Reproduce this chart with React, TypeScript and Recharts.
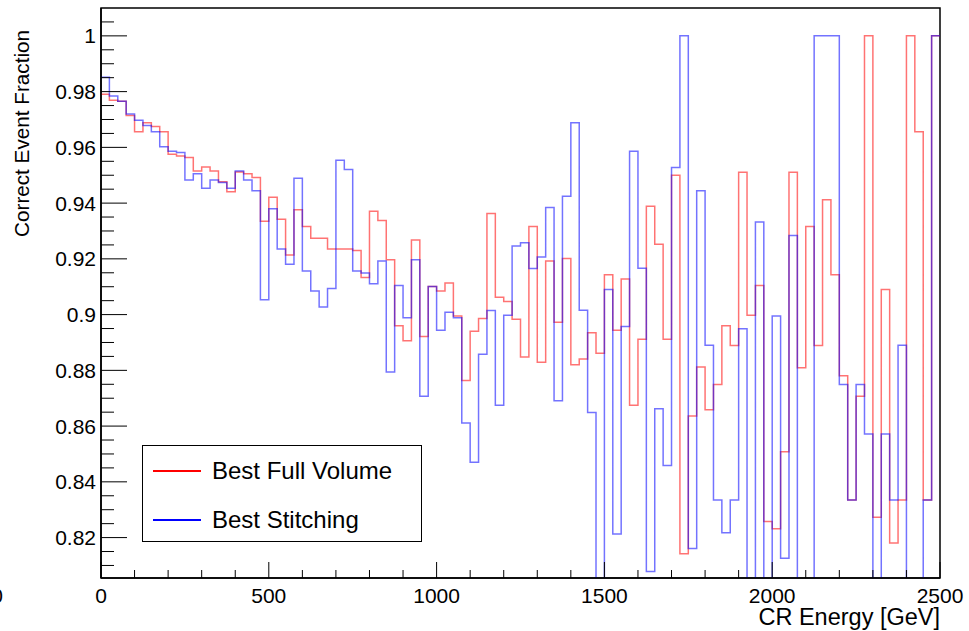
import React from 'react';
import { LineChart, Line, XAxis, YAxis, ReferenceArea } from 'recharts';

// Histogram: 100 bins of 25 GeV from 0 to 2500 GeV
const BIN_WIDTH = 25;
const N_BINS = 100;

// Best Full Volume (red), bin contents
const fullVolume = [
  0.9791, 0.9769, 0.9765, 0.9714, 0.9656, 0.9688, 0.9675, 0.9656, 0.9575, 0.9569,
  0.9564, 0.9515, 0.953, 0.9515, 0.9477, 0.9441, 0.9512, 0.9505, 0.9492, 0.9335,
  0.9421, 0.9342, 0.9214, 0.9376, 0.9316, 0.9274, 0.9274, 0.9235, 0.9235, 0.9235,
  0.923, 0.9133, 0.9371, 0.9338, 0.9197, 0.896, 0.8906, 0.9268, 0.8921, 0.9101,
  0.9085, 0.9113, 0.8995, 0.8764, 0.894, 0.8986, 0.9363, 0.9062, 0.9047, 0.8983,
  0.8848, 0.9316, 0.8829, 0.9192, 0.8973, 0.9201, 0.882, 0.8841, 0.8935, 0.8861,
  0.9143, 0.8944, 0.9128, 0.8675, 0.8912, 0.9389, 0.9252, 0.8912, 0.95, 0.8142,
  0.8636, 0.8812, 0.8659, 0.8749, 0.896, 0.8889, 0.9511, 0.8998, 0.9104, 0.8258,
  0.8232, 0.8508, 0.9511, 0.8809, 0.9316, 0.8889, 0.9412, 0.9143, 0.8781, 0.8335,
  0.8707, 1.0, 0.8273, 0.909, 0.8181, 0.8335, 1.0, 0.9656, 0.8335, 1.0,
];

// Best Stitching (blue), bin contents
const stitching = [
  0.9852, 0.9784, 0.9765, 0.972, 0.9697, 0.9678, 0.9656, 0.9602, 0.9586, 0.9582,
  0.9483, 0.9505, 0.9453, 0.9483, 0.9474, 0.9453, 0.9515, 0.9483, 0.9444, 0.9053,
  0.938, 0.9235, 0.9181, 0.9489, 0.9156, 0.9085, 0.9027, 0.9094, 0.9554, 0.9521,
  0.9156, 0.9149, 0.9111, 0.9192, 0.8794, 0.9104, 0.8989, 0.9197, 0.8707, 0.9101,
  0.8944, 0.9008, 0.8989, 0.8611, 0.847, 0.8858, 0.9015, 0.8675, 0.8998, 0.9246,
  0.9258, 0.9165, 0.9207, 0.9384, 0.8691, 0.9425, 0.9688, 0.9016, 0.8649, 0.75,
  0.909, 0.8213, 0.8957, 0.9586, 0.9166, 0.8078, 0.8662, 0.8459, 0.9528, 1.0,
  0.8161, 0.9444, 0.889, 0.8335, 0.8217, 0.8335, 0.8949, 0.75, 0.9332, 0.75,
  0.8995, 0.8126, 0.9284, 0.75, 0.75, 1.0, 1.0, 1.0, 0.8749, 0.8335,
  0.8749, 0.8572, 0.75, 0.8572, 0.8335, 0.889, 0.75, 0.75, 0.8335, 1.0,
];

const xTicks = [0, 100, 200, 300, 400, 500, 600, 700, 800, 900, 1000, 1100, 1200, 1300, 1400, 1500,
  1600, 1700, 1800, 1900, 2000, 2100, 2200, 2300, 2400, 2500];
const xMajor = [0, 500, 1000, 1500, 2000, 2500];
const yTicks = [0.81, 0.815, 0.82, 0.825, 0.83, 0.835, 0.84, 0.845, 0.85, 0.855, 0.86, 0.865, 0.87,
  0.875, 0.88, 0.885, 0.89, 0.895, 0.9, 0.905, 0.91, 0.915, 0.92, 0.925, 0.93, 0.935, 0.94, 0.945,
  0.95, 0.955, 0.96, 0.965, 0.97, 0.975, 0.98, 0.985, 0.99, 0.995, 1.0, 1.005];
const yMajor = [0.82, 0.84, 0.86, 0.88, 0.9, 0.92, 0.94, 0.96, 0.98, 1.0];
const yMajorLabels = ['0.82', '0.84', '0.86', '0.88', '0.9', '0.92', '0.94', '0.96', '0.98', '1'];

const Y_MIN = 0.8055;
const Y_MAX = 1.01;

const seriesInfo = [
  { key: 'full', name: 'Best Full Volume', color: '#ff0000' },
  { key: 'stitch', name: 'Best Stitching', color: '#0000ff' },
];

// step data at bin edges (last edge repeats last bin value)
const data = [];
for (let i = 0; i <= N_BINS; i++) {
  const b = Math.min(i, N_BINS - 1);
  data.push({ e: i * BIN_WIDTH, full: fullVolume[b], stitch: stitching[b] });
}

const FONT = '"Liberation Sans", Arial, Helvetica, sans-serif';

const XTick = (props: any) => {
  const { x, y, payload } = props;
  const v = payload.value;
  const major = xMajor.includes(v);
  return (
    <g>
      <line x1={x} x2={x} y1={y} y2={y - (major ? 16 : 8)} stroke="#000" strokeWidth={1} />
      {major && (
        <text x={x} y={y + 25} textAnchor="middle" fontSize={21} fontFamily={FONT} fill="#000">
          {v}
        </text>
      )}
    </g>
  );
};

const YTick = (props: any) => {
  const { x, y, payload } = props;
  const v = payload.value;
  const idx = yMajor.findIndex((m) => Math.abs(m - v) < 1e-6);
  const major = idx >= 0;
  return (
    <g>
      <line x1={x} x2={x + (major ? 26 : 13)} y1={y} y2={y} stroke="#000" strokeWidth={1} />
      {major && (
        <text x={x - 5} y={y + 7.5} textAnchor="end" fontSize={21} fontFamily={FONT} fill="#000">
          {yMajorLabels[idx]}
        </text>
      )}
    </g>
  );
};

const XTitle = () => (
  <text x={940} y={625} textAnchor="end" fontSize={23.5} fontFamily={FONT} fill="#000">
    CR Energy [GeV]
  </text>
);

const YTitle = () => (
  <g>
    <text transform="translate(29,30) rotate(-90)" textAnchor="end" fontSize={20.7} fontFamily={FONT} fill="#000">
      Correct Event Fraction
    </text>
    <text x={-3} y={603} textAnchor="middle" fontSize={21} fontFamily={FONT} fill="#000">0</text>
  </g>
);

export default function App() {
  return (
    <div style={{ position: 'absolute', left: 0, top: 0, width: 969, height: 631, background: '#fff' }}>
      <LineChart width={969} height={631} data={data} margin={{ top: 8, right: 29, left: 0, bottom: 0 }}>
        <XAxis
          dataKey="e"
          type="number"
          domain={[0, 2500]}
          ticks={xTicks}
          interval={0}
          tickSize={0}
          tickMargin={0}
          tickLine={false}
          tick={<XTick />}
          height={53}
          axisLine={{ stroke: '#000', strokeWidth: 1.5 }}
          label={{ content: () => <XTitle /> }}
          allowDataOverflow
        />
        <YAxis
          type="number"
          domain={[Y_MIN, Y_MAX]}
          ticks={yTicks}
          interval={0}
          tickSize={0}
          tickMargin={0}
          tickLine={false}
          tick={<YTick />}
          width={101}
          axisLine={{ stroke: '#000', strokeWidth: 1.5 }}
          label={{ content: () => <YTitle /> }}
          allowDataOverflow
        />
        <ReferenceArea x1={0} x2={2500} y1={Y_MIN} y2={Y_MAX} fill="none" stroke="#000" strokeWidth={1.5} fillOpacity={0} />
        {seriesInfo.map((s) => (
          <Line
            key={s.key}
            dataKey={s.key}
            name={s.name}
            type="stepAfter"
            stroke={s.color}
            strokeOpacity={0.55}
            strokeWidth={1.5}
            dot={false}
            activeDot={false}
            isAnimationActive={false}
          />
        ))}
      </LineChart>
      <div
        style={{
          position: 'absolute',
          left: 142,
          top: 445,
          width: 280,
          height: 97,
          border: '1.5px solid #000',
          background: '#fff',
          boxSizing: 'border-box',
          fontFamily: FONT,
          fontSize: 24,
        }}
      >
        {seriesInfo.map((s, i) => (
          <div key={s.key} style={{ position: 'absolute', left: 10, top: 10 + i * 49, height: 30, display: 'flex', alignItems: 'center' }}>
            <div style={{ width: 48, height: 2, background: s.color }} />
            <span style={{ marginLeft: 11, color: '#000', whiteSpace: 'nowrap' }}>{s.name}</span>
          </div>
        ))}
      </div>
    </div>
  );
}
